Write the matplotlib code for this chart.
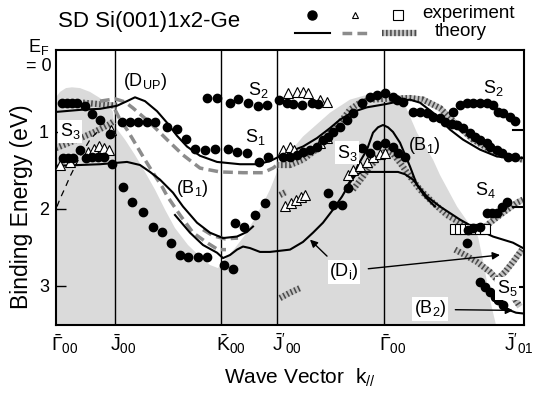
import numpy as np
import matplotlib
matplotlib.use('Agg')
import matplotlib.pyplot as plt
import matplotlib.transforms as mtransforms
from matplotlib.lines import Line2D

plt.rcParams['font.family'] = 'Liberation Sans'
plt.rcParams['mathtext.fontset'] = 'custom'
plt.rcParams['mathtext.rm'] = 'Liberation Sans'
plt.rcParams['mathtext.it'] = 'Liberation Sans:italic'
plt.rcParams['mathtext.bf'] = 'Liberation Sans:bold'
plt.rcParams['font.size'] = 13

# symmetry points along the k path (arbitrary units)
SYM_K = [0, 59, 165, 221, 328, 468]
SYM_LABELS = [r'$\bar{\Gamma}_{00}$', r'$\bar{\mathrm{J}}_{00}$', r'$\bar{\mathrm{K}}_{00}$',
              r"$\bar{\mathrm{J}}'_{00}$", r'$\bar{\Gamma}_{00}$', r"$\bar{\mathrm{J}}'_{01}$"]

# projected bulk bands (shaded), (k, E) outline
SHADE = [(0, 0.55), (4, 0.48), (10, 0.43), (16, 0.42), (24, 0.43), (34, 0.48), (44, 0.56),
         (52, 0.64), (57, 0.74), (58, 0.91), (69, 1.10), (79, 1.30), (89, 1.52), (99, 1.75),
         (109, 2.01), (119, 2.25), (132, 2.47), (144, 2.62), (154, 2.73), (162, 2.77),
         (167, 2.69), (179, 2.51), (189, 2.34), (199, 2.12), (209, 1.88), (214, 1.75),
         (221, 1.52), (234, 1.26), (247, 1.06), (274, 0.75), (294, 0.58), (321, 0.48),
         (329, 0.45), (341, 0.52), (349, 0.65), (361, 1.01), (377, 1.36), (384, 1.56),
         (401, 1.97), (422, 2.36), (428, 2.73), (434, 3.18), (440, 3.51), (0, 3.51)]

# theory, solid black
SOLID_UP = [(0, 0.74), (27, 0.71), (44, 0.70), (61, 0.66), (71, 0.60), (79, 0.55), (89, 0.60),
            (101, 0.73), (111, 0.88), (121, 1.05), (131, 1.19), (144, 1.31), (161, 1.39),
            (184, 1.42), (201, 1.42), (214, 1.38), (231, 1.27), (247, 1.19), (261, 1.08),
            (274, 0.95), (284, 0.84), (297, 0.74), (311, 0.68), (329, 0.64), (344, 0.60),
            (354, 0.58), (364, 0.62), (377, 0.75), (394, 0.97), (407, 1.10), (424, 1.23),
            (441, 1.32), (467, 1.34)]
SOLID_B1_UPPER = [(0, 1.44), (24, 1.43), (44, 1.42), (71, 1.39), (84, 1.43), (94, 1.52),
                  (104, 1.62), (117, 1.79), (127, 1.97), (141, 2.18), (154, 2.31), (167, 2.38),
                  (181, 2.36), (191, 2.30), (197, 2.23)]
SOLID_DI = [(119, 2.08), (134, 2.31), (147, 2.47), (161, 2.57), (167, 2.64), (174, 2.60),
            (181, 2.53), (187, 2.49), (194, 2.51), (204, 2.56), (214, 2.56), (234, 2.53),
            (247, 2.43), (257, 2.31), (267, 2.18), (277, 2.01), (286, 1.84), (294, 1.66),
            (299, 1.57), (306, 1.52), (328, 1.52), (342, 1.52), (349, 1.55), (357, 1.62),
            (371, 1.84), (384, 1.97), (404, 2.14), (419, 2.25), (437, 2.36), (457, 2.44),
            (467, 2.51)]
SOLID_B1_PEAK = [(289, 1.75), (296, 1.60), (302, 1.43), (311, 1.23), (317, 1.01), (322, 0.94),
                 (327, 0.91), (332, 0.94), (337, 1.00), (344, 1.14), (354, 1.45), (361, 1.69),
                 (369, 1.84), (379, 1.97)]
SOLID_B2 = [(424, 2.97), (432, 3.08), (440, 3.19), (447, 3.27), (454, 3.32), (460, 3.35),
            (467, 3.36)]
EDGE_BITS = [[(457, 0.97), (467, 0.97)], [(457, 1.97), (467, 1.97)], [(458, 3.01), (467, 3.01)]]
THIN_DASHED = [(1, 1.97), (4, 1.87), (9, 1.73), (14, 1.58), (19, 1.45), (24, 1.32), (29, 1.21),
               (34, 1.10), (39, 1.03), (44, 0.97)]

# theory, gray dashed
GRAY_UP = [(44, 0.60), (59, 0.57), (69, 0.61), (77, 0.69), (94, 0.88), (111, 1.10), (127, 1.30),
           (144, 1.47), (164, 1.52), (187, 1.53), (207, 1.53), (217, 1.47), (224, 1.40)]
GRAY_B1 = [(59, 0.71), (64, 0.84), (71, 0.97), (77, 1.10), (87, 1.32), (97, 1.53), (106, 1.71),
           (111, 1.83), (124, 2.08), (137, 2.31), (151, 2.44), (162, 2.53), (170, 2.53)]
GRAY_B1_BOTTOM = [(147, 2.27), (157, 2.35), (169, 2.39), (182, 2.38)]

# theory, hatched
HATCH_CURVES = [
    [(27, 0.62), (44, 0.64), (61, 0.66)],
    [(0, 1.21), (21, 1.10), (37, 1.01), (52, 0.91), (58, 0.86)],
    [(221, 1.43), (234, 1.43), (247, 1.36), (264, 1.19), (274, 1.01), (284, 0.88), (294, 0.71),
     (304, 0.62), (314, 0.58), (329, 0.57), (354, 0.56), (367, 0.58), (384, 0.69), (401, 0.91),
     (417, 1.10), (434, 1.23), (451, 1.32), (467, 1.36)],
    [(297, 1.75), (307, 1.58), (314, 1.45), (324, 1.32), (331, 1.23), (336, 1.27), (344, 1.40),
     (354, 1.58), (364, 1.75), (377, 1.92), (391, 2.08), (404, 2.18), (417, 2.27), (424, 2.30),
     (434, 2.18), (447, 2.05), (461, 1.92), (467, 1.88)],
    [(399, 2.53), (409, 2.60), (421, 2.69), (434, 2.82), (441, 2.92), (449, 2.82), (457, 2.69),
     (466, 2.53)],
    [(457, 3.14), (464, 3.27)],
    [(224, 3.16), (234, 3.09), (244, 3.03)],
    [(224, 1.82), (230, 1.78)],
]

# experiment: filled circles
DOTS = [(6, 0.62), (11, 0.62), (16, 0.62), (21, 0.62), (29, 0.66), (36, 0.77), (44, 0.84), (54, 1.03),
        (7, 1.34), (12, 1.34), (17, 1.34), (24, 1.23), (30, 1.34), (36, 1.32), (42, 1.32), (48, 1.32), (56, 1.42),
        (66, 0.87), (74, 0.87), (82, 0.87), (91, 0.87), (99, 0.87), (111, 0.94), (121, 0.96), (130, 1.09),
        (139, 1.22), (149, 1.23), (159, 1.22), (172, 1.22), (181, 1.26), (191, 1.27), (203, 1.39), (212, 1.32),
        (227, 1.32), (234, 1.32), (241, 1.30), (247, 1.26), (254, 1.23), (261, 1.19), (267, 1.10), (272, 1.06),
        (277, 1.00), (284, 0.94), (291, 0.84), (297, 0.75), (306, 0.62), (314, 0.55), (321, 0.52), (329, 0.49),
        (337, 0.55), (341, 0.58), (347, 0.61), (357, 0.74), (364, 0.74), (371, 0.75), (377, 0.81), (384, 0.82),
        (389, 0.87), (396, 0.90), (401, 0.91), (407, 0.95), (414, 1.01), (419, 1.06), (424, 1.10), (431, 1.14),
        (434, 1.19), (441, 1.23), (446, 1.27), (452, 1.32), (459, 1.32),
        (151, 0.56), (161, 0.56), (174, 0.62), (182, 0.57), (192, 0.62), (202, 0.66), (211, 0.65), (223, 0.58),
        (231, 0.62), (237, 0.64), (246, 0.65), (256, 0.62), (262, 0.64),
        (397, 0.74), (404, 0.65), (411, 0.62), (417, 0.62), (424, 0.62), (431, 0.62), (437, 0.65), (442, 0.74),
        (447, 0.75), (454, 0.81), (459, 0.86),
        (67, 1.71), (76, 1.91), (87, 2.04), (97, 2.23), (106, 2.30), (115, 2.45), (124, 2.60), (132, 2.62),
        (142, 2.62), (151, 2.62), (168, 2.73), (177, 2.78), (179, 2.19), (188, 2.23), (199, 2.08), (209, 1.92),
        (272, 1.79), (277, 1.95), (286, 1.95), (292, 1.73),
        (306, 1.21), (314, 1.27), (321, 1.17), (329, 1.14), (337, 1.19), (342, 1.27), (349, 1.32),
        (431, 2.05), (436, 2.05), (441, 2.05), (446, 1.97), (451, 1.91),
        (412, 2.27), (417, 2.25), (424, 2.23), (411, 2.44),
        (424, 2.95), (429, 3.01), (434, 3.08), (439, 3.14), (442, 3.18), (447, 3.25)]

# experiment: open triangles
TRIANGLES = [(4, 1.43), (14, 1.39), (32, 1.26), (38, 1.22), (43, 1.18), (48, 1.21), (53, 1.23), (55, 0.97),
             (232, 0.49), (241, 0.48), (247, 0.48), (252, 0.49), (264, 0.58), (271, 0.61),
             (227, 1.23), (234, 1.19), (238, 1.23), (264, 1.14), (271, 1.08),
             (229, 1.96), (235, 1.92), (240, 1.88), (245, 1.84), (249, 1.82),
             (292, 1.56), (297, 1.49), (304, 1.44), (311, 1.39), (317, 1.32), (324, 1.29), (329, 1.27)]

# experiment: open squares
SQUARES = [(399, 2.26), (404, 2.26), (409, 2.26), (414, 2.26), (419, 2.26), (424, 2.26), (429, 2.26)]

# band labels: (text, k, E, white box)
BAND_LABELS = [(r'(D$_\mathrm{UP}$)', 89, 0.35, False), (r'S$_2$', 202, 0.45, False),
               (r'S$_1$', 199, 1.06, False), (r'S$_3$', 14, 0.99, True),
               (r'(B$_1$)', 136, 1.73, False), (r'S$_3$', 291, 1.27, True),
               (r'(B$_1$)', 368, 1.17, False), (r'S$_2$', 437, 0.43, False),
               (r'S$_4$', 429, 1.75, False), (r'S$_5$', 451, 3.03, True),
               (r'(D$_\mathrm{i}$)', 288, 2.82, True), (r'(B$_2$)', 374, 3.30, True)]
ARROWS = [((277, 2.69), (254, 2.40)), ((304, 2.79), (444, 2.60)), ((391, 3.31), (457, 3.32))]

HATCH_LIGHT = '#c4c4c4'
HATCH_DARK = '#4a4a4a'
GRAY = '#8c8c8c'


def xy(pts):
    a = np.array(pts, dtype=float)
    return a[:, 0], a[:, 1]


def hatched(ax, k, e, **kw):
    ax.plot(k, e, color=HATCH_LIGHT, lw=4.5, solid_capstyle='butt', zorder=2, **kw)
    ax.plot(k, e, color=HATCH_DARK, lw=4.5, dashes=(0.25, 0.4), dash_capstyle='butt', zorder=2.1, **kw)


fig = plt.figure(figsize=(5.38, 3.94), dpi=100)
ax = fig.add_axes([56/538, 69/394, 468/538, 275/394])
ax.set_xlim(0, 468)
ax.set_ylim(3.51, -0.065)

ax.fill(*xy(SHADE), color='#dadada', lw=0, zorder=0)
for k in SYM_K[1:-1]:
    ax.axvline(k, color='black', lw=1, zorder=1)

for c in HATCH_CURVES:
    hatched(ax, *xy(c))

for c in [GRAY_UP, GRAY_B1, GRAY_B1_BOTTOM]:
    ax.plot(*xy(c), color=GRAY, lw=2.5, dashes=(2.8, 1.5), zorder=3)

for c in [SOLID_UP, SOLID_B1_UPPER, SOLID_DI, SOLID_B1_PEAK, SOLID_B2] + EDGE_BITS:
    ax.plot(*xy(c), color='black', lw=1.5, zorder=4)
ax.plot(*xy(THIN_DASHED), color='black', lw=0.9, dashes=(5, 4), zorder=4)

ax.plot(*xy(SQUARES), ls='none', marker='s', ms=7, mfc='white', mec='black', mew=0.8, zorder=5)
ax.plot(*xy(TRIANGLES), ls='none', marker='^', ms=6.5, mfc='white', mec='black', mew=0.8, zorder=5)
ax.plot(*xy(DOTS), ls='none', marker='o', ms=6, color='black', zorder=5.5)

for txt, k, e, box in BAND_LABELS:
    bb = dict(facecolor='white', edgecolor='none', pad=1) if box else None
    ax.text(k, e, txt, ha='center', va='center', fontsize=13, bbox=bb, zorder=7)

for start, end in ARROWS:
    ax.annotate('', xy=end, xytext=start,
                arrowprops=dict(arrowstyle='-|>', color='black', lw=1, mutation_scale=11,
                                shrinkA=6, shrinkB=0), zorder=6)

# axes styling
for s in ax.spines.values():
    s.set_linewidth(1.5)
ax.set_yticks([1, 2, 3])
ax.tick_params(axis='y', direction='in', length=7, width=1, labelsize=13, pad=5)
ax.set_xticks(SYM_K, SYM_LABELS)
ax.tick_params(axis='x', length=0, labelsize=14, pad=5)
for i, lab in enumerate(ax.get_xticklabels()):
    lab.set_ha('left')
    dx = -20 if i == len(SYM_K) - 1 else -5
    lab.set_transform(lab.get_transform() + mtransforms.ScaledTranslation(dx/100, 0, fig.dpi_scale_trans))

fig.text(300/538, 1-378/394, r'Wave Vector  k$_{//}$', ha='center', va='center', fontsize=15)
fig.text(22/538, 1-207/394, 'Binding Energy (eV)', rotation=90, ha='center', va='center', fontsize=16.5)
fig.text(28/538, 1-52/394, r'E$_\mathrm{F}$', ha='left', va='baseline', fontsize=13)
fig.text(26/538, 1-71/394, '= 0', ha='left', va='baseline', fontsize=13)
fig.text(58/538, 1-21/394, 'SD Si(001)1x2-Ge', ha='left', va='center', fontsize=16)

# legend drawn by hand above the frame
y1, y2 = 1-15/394, 1-33/394
fig.add_artist(Line2D([312/538], [y1], marker='o', ms=6.5, color='black', ls='none'))
fig.add_artist(Line2D([355/538], [y1], marker='^', ms=5, mfc='white', mec='black', mew=0.8, ls='none'))
fig.add_artist(Line2D([398/538], [y1], marker='s', ms=7, mfc='white', mec='black', mew=0.8, ls='none'))
fig.text(422/538, 1-13/394, 'experiment', ha='left', va='center', fontsize=13.5)
fig.add_artist(Line2D([295/538, 330/538], [y2, y2], color='black', lw=1.5))
fig.add_artist(Line2D([342/538, 370/538], [y2, y2], color=GRAY, lw=2.5, dashes=(2.8, 1.5)))
fig.add_artist(Line2D([382/538, 417/538], [y2, y2], color=HATCH_LIGHT, lw=4.5, solid_capstyle='butt'))
fig.add_artist(Line2D([382/538, 417/538], [y2, y2], color=HATCH_DARK, lw=4.5, dashes=(0.25, 0.4),
                      dash_capstyle='butt'))
fig.text(435/538, 1-32/394, 'theory', ha='left', va='center', fontsize=13.5)

fig.savefig('out.png', dpi=100)
